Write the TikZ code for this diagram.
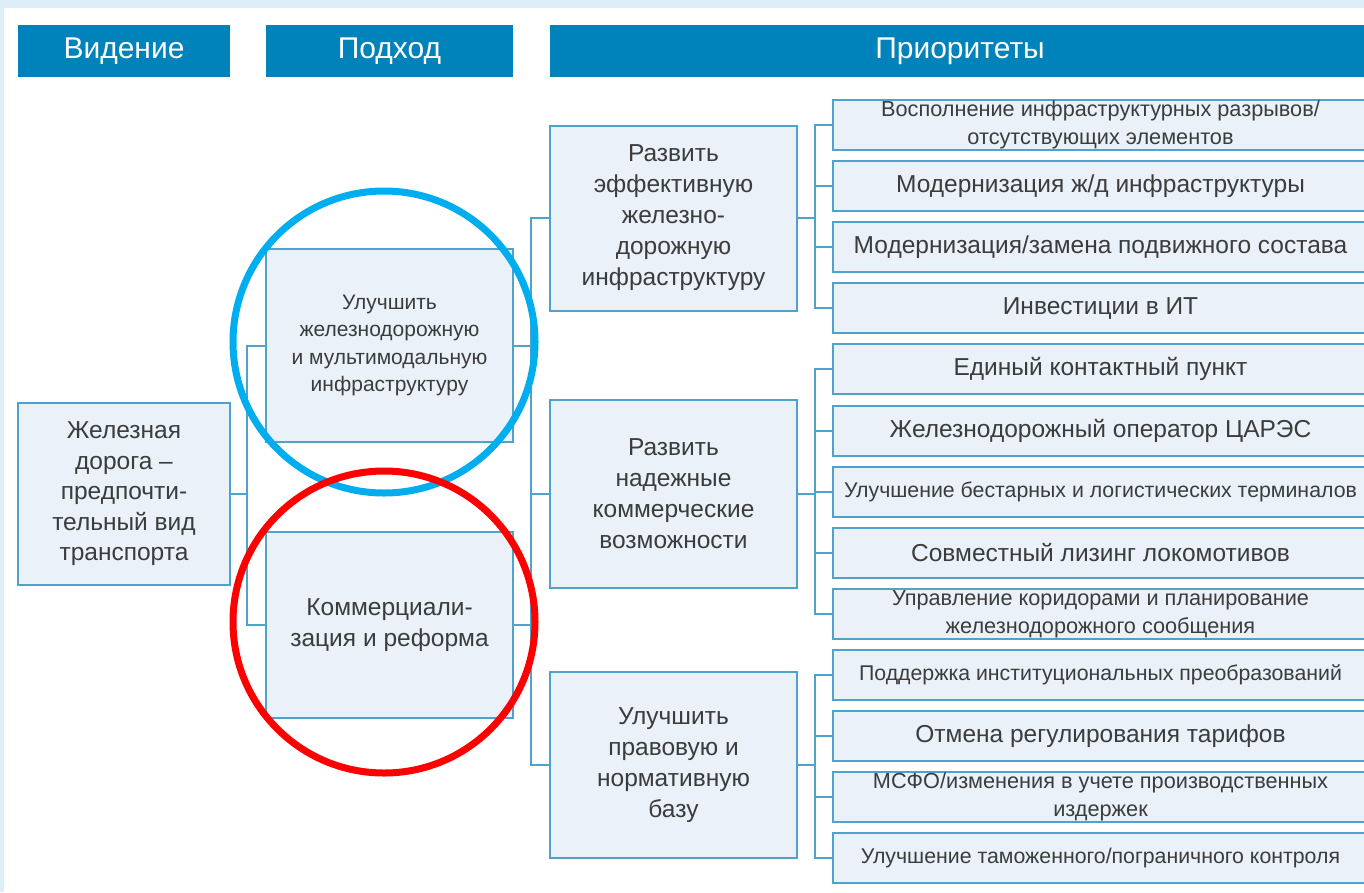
\documentclass[tikz,border=0pt]{standalone}
\usepackage{fontspec}
\setmainfont{Liberation Sans}
\definecolor{headblue}{RGB}{0,130,186}
\definecolor{lineblue}{RGB}{78,162,204}
\definecolor{boxfill}{RGB}{234,241,248}
\definecolor{txtgray}{RGB}{60,60,60}
\definecolor{framebg}{RGB}{221,238,248}
\definecolor{ringcyan}{RGB}{0,174,239}
\definecolor{ringred}{RGB}{255,0,0}

\begin{document}
\begin{tikzpicture}[x=1pt,y=-1pt,
	head/.style={fill=headblue, text=white, inner sep=0pt, minimum height=52pt,
		font=\fontsize{30}{34}\selectfont},
	box/.style={draw=lineblue, line width=2pt, fill=boxfill, text=txtgray,
		inner sep=0pt, align=center},
	mainbox/.style={box, minimum width=247pt, font=\fontsize{24.5}{31}\selectfont},
	prio/.style={box, minimum width=535pt, minimum height=50pt},
	big/.style={font=\fontsize{24.5}{28}\selectfont},
	mid/.style={font=\fontsize{21.3}{26}\selectfont},
	small/.style={font=\fontsize{21.7}{28}\selectfont},
	link/.style={draw=lineblue, line width=2pt},
	ring/.style={line width=7pt}]

	% page and frame
	\useasboundingbox (0,0) rectangle (1364,892);
	\fill[white] (0,0) rectangle (1364,892);
	\fill[framebg] (0,0) rectangle (1364,8);
	\fill[framebg] (0,0) rectangle (4,892);

	% headers
	\node[head, minimum width=212pt] (hvision) at (124,51) {Видение};
	\node[head, minimum width=247pt] (happroach) at (389.5,51) {Подход};
	\node[head, minimum width=820pt] (hprio) at (960,51) {Приоритеты};

	% vision
	\node[box, minimum width=212pt, minimum height=182pt,
		font=\fontsize{24.5}{30.5}\selectfont] (vision) at (124,494)
		{Железная\\дорога --\\предпочти-\\тельный вид\\транспорта};

	% approach
	\node[mainbox, minimum height=193pt, font=\fontsize{21}{27.5}\selectfont]
		(infra) at (389.5,345.5)
		{Улучшить\\железнодорожную\\и мультимодальную\\инфраструктуру};
	\node[mainbox, minimum height=186pt] (comm) at (389.5,625)
		{Коммерциали-\\зация и реформа};

	% priorities
	\node[mainbox, minimum height=185pt] (eff) at (673.5,218)
		{Развить\\эффективную\\железно-\\дорожную\\инфраструктуру};
	\node[mainbox, minimum height=188pt] (trade) at (673.5,494)
		{Развить\\надежные\\коммерческие\\возможности};
	\node[mainbox, minimum height=186pt] (legal) at (673.5,765)
		{Улучшить\\правовую и\\нормативную\\базу};

	% actions
	\foreach \i/\s/\t in {
		1/small/{Восполнение инфраструктурных разрывов/\\отсутствующих элементов},
		2/big/{Модернизация ж/д инфраструктуры},
		3/big/{Модернизация/замена подвижного состава},
		4/big/{Инвестиции в ИТ},
		5/big/{Единый контактный пункт},
		6/big/{Железнодорожный оператор ЦАРЭС},
		7/mid/{Улучшение бестарных и логистических терминалов},
		8/big/{Совместный лизинг локомотивов},
		9/small/{Управление коридорами и планирование\\железнодорожного сообщения},
		10/mid/{Поддержка институциональных преобразований},
		11/big/{Отмена регулирования тарифов},
		12/small/{МСФО/изменения в учете производственных\\издержек},
		13/mid/{Улучшение таможенного/пограничного контроля}}
		\node[prio,\s] (p\i) at (1100.5,{125+61.1*(\i-1)}) {\t};

	% buses
	\coordinate (busA) at (247,0);
	\coordinate (busB) at (531,0);
	\coordinate (busC) at (815,0);

	% links
	\foreach \n in {infra,comm}
		\draw[link] (vision.east) -| (busA |- \n.west) -- (\n.west);
	\draw[link] (infra.east) -| (busB |- eff.west) -- (eff.west);
	\draw[link] (infra.east) -| (busB |- trade.west) -- (trade.west);
	\draw[link] (comm.east) -| (busB |- trade.west);
	\draw[link] (comm.east) -| (busB |- legal.west) -- (legal.west);
	\foreach \i in {1,...,4}
		\draw[link] (eff.east) -| (busC |- p\i.west) -- (p\i.west);
	\foreach \i in {5,...,9}
		\draw[link] (trade.east) -| (busC |- p\i.west) -- (p\i.west);
	\foreach \i in {10,...,13}
		\draw[link] (legal.east) -| (busC |- p\i.west) -- (p\i.west);

	% rings
	\draw[ring, ringcyan] (384,342) circle [radius=151pt];
	\draw[ring, ringred] (384,622) circle [radius=151pt];
\end{tikzpicture}
\end{document}
